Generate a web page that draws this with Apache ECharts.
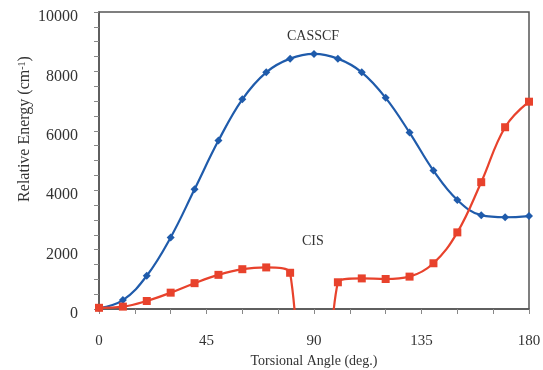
<!DOCTYPE html>
<html>
<head>
    <meta charset="utf-8">
    <title>Torsional Angle</title>
    <script src="https://cdn.jsdelivr.net/npm/echarts@6/dist/echarts.min.js"></script>
    <style>
        html, body { margin: 0; padding: 0; background: #fff; }
    </style>
</head>
<body>
<div id="main" style="width:543px;height:370px;"></div>
<script>
    // torsional angles (deg.)
    var angles = [0, 10, 20, 30, 40, 50, 60, 70, 80, 90, 100, 110, 120, 130, 140, 150, 160, 170, 180];
    // relative energy, cm-1
    var casscf = [30, 300, 1120, 2410, 4030, 5670, 7060, 7970, 8430, 8590, 8430, 7970, 7110, 5940, 4660, 3670, 3160, 3090, 3130];
    // value at 90 lies far below the axis (clipped in the plot)
    var cis = [40, 80, 270, 550, 870, 1150, 1340, 1400, 1220, -16000, 900, 1030, 1010, 1090, 1540, 2580, 4270, 6120, 6980];

    var xTicks = [0, 45, 90, 135, 180];
    var yTicks = [0, 2000, 4000, 6000, 8000, 10000];

    function pairs(xs, ys) {
        var out = [];
        for (var i = 0; i < xs.length; i++) {
            out.push([xs[i], ys[i]]);
        }
        return out;
    }

    var font = '"Liberation Serif", "Times New Roman", serif';
    var axisColor = '#555';

    var myChart = echarts.init(document.getElementById('main'));
    var option = {
        backgroundColor: '#fff',
        animation: false,
        grid: {
            left: 99,
            right: 14,
            top: 12,
            bottom: 61,
            outerBoundsMode: 'none',
            show: true,
            borderColor: axisColor,
            borderWidth: 1.5
        },
        xAxis: {
            type: 'value',
            min: xTicks[0],
            max: xTicks[xTicks.length - 1],
            interval: 45,
            name: 'Torsional Angle (deg.)',
            nameLocation: 'middle',
            nameGap: 45,
            nameTextStyle: { fontFamily: font, fontSize: 14, color: '#333' },
            axisLine: { lineStyle: { color: axisColor, width: 1.5 } },
            axisTick: { show: true, length: 5, lineStyle: { color: '#888' } },
            minorTick: { show: true, splitNumber: 3, length: 5, lineStyle: { color: '#888' } },
            splitLine: { show: false },
            axisLabel: { fontFamily: font, fontSize: 15, color: '#333', margin: 25 }
        },
        yAxis: {
            type: 'value',
            min: yTicks[0],
            max: yTicks[yTicks.length - 1],
            interval: 2000,
            axisLine: { show: true, lineStyle: { color: axisColor, width: 1.5 } },
            axisTick: { show: true, length: 5, lineStyle: { color: '#888' } },
            minorTick: { show: true, splitNumber: 4, length: 5, lineStyle: { color: '#888' } },
            splitLine: { show: false },
            axisLabel: {
                fontFamily: font, fontSize: 16, color: '#333', margin: 21,
                verticalAlign: 'top', lineHeight: 10,
                formatter: function (v) { return String(v); }
            }
        },
        graphic: [
            {
                type: 'text',
                left: 287,
                top: 29,
                style: { text: 'CASSCF', font: '14px ' + font, fill: '#333' }
            },
            {
                type: 'text',
                left: 302,
                top: 234,
                style: { text: 'CIS', font: '14px ' + font, fill: '#333' }
            },
            {
                type: 'text',
                x: 25,
                y: 129,
                rotation: Math.PI / 2,
                style: {
                    text: '{a|Relative Energy (cm}{s|-1}{a|)}',
                    align: 'center',
                    verticalAlign: 'middle',
                    rich: {
                        a: { font: '16px ' + font, fill: '#333' },
                        s: { font: '10px ' + font, fill: '#333', verticalAlign: 'top' }
                    }
                }
            }
        ],
        series: [
            {
                name: 'CASSCF',
                type: 'line',
                data: pairs(angles, casscf),
                smooth: 0.4,
                symbol: 'diamond',
                symbolSize: 8,
                lineStyle: { color: '#1f5bab', width: 2.2 },
                itemStyle: { color: '#1f5bab' }
            },
            {
                name: 'CIS',
                type: 'line',
                data: pairs(angles, cis),
                smooth: 0.4,
                clip: true,
                symbol: 'rect',
                symbolSize: 8,
                lineStyle: { color: '#e8422c', width: 2.2 },
                itemStyle: { color: '#e8422c' }
            }
        ]
    };
    myChart.setOption(option);
</script>
</body>
</html>
